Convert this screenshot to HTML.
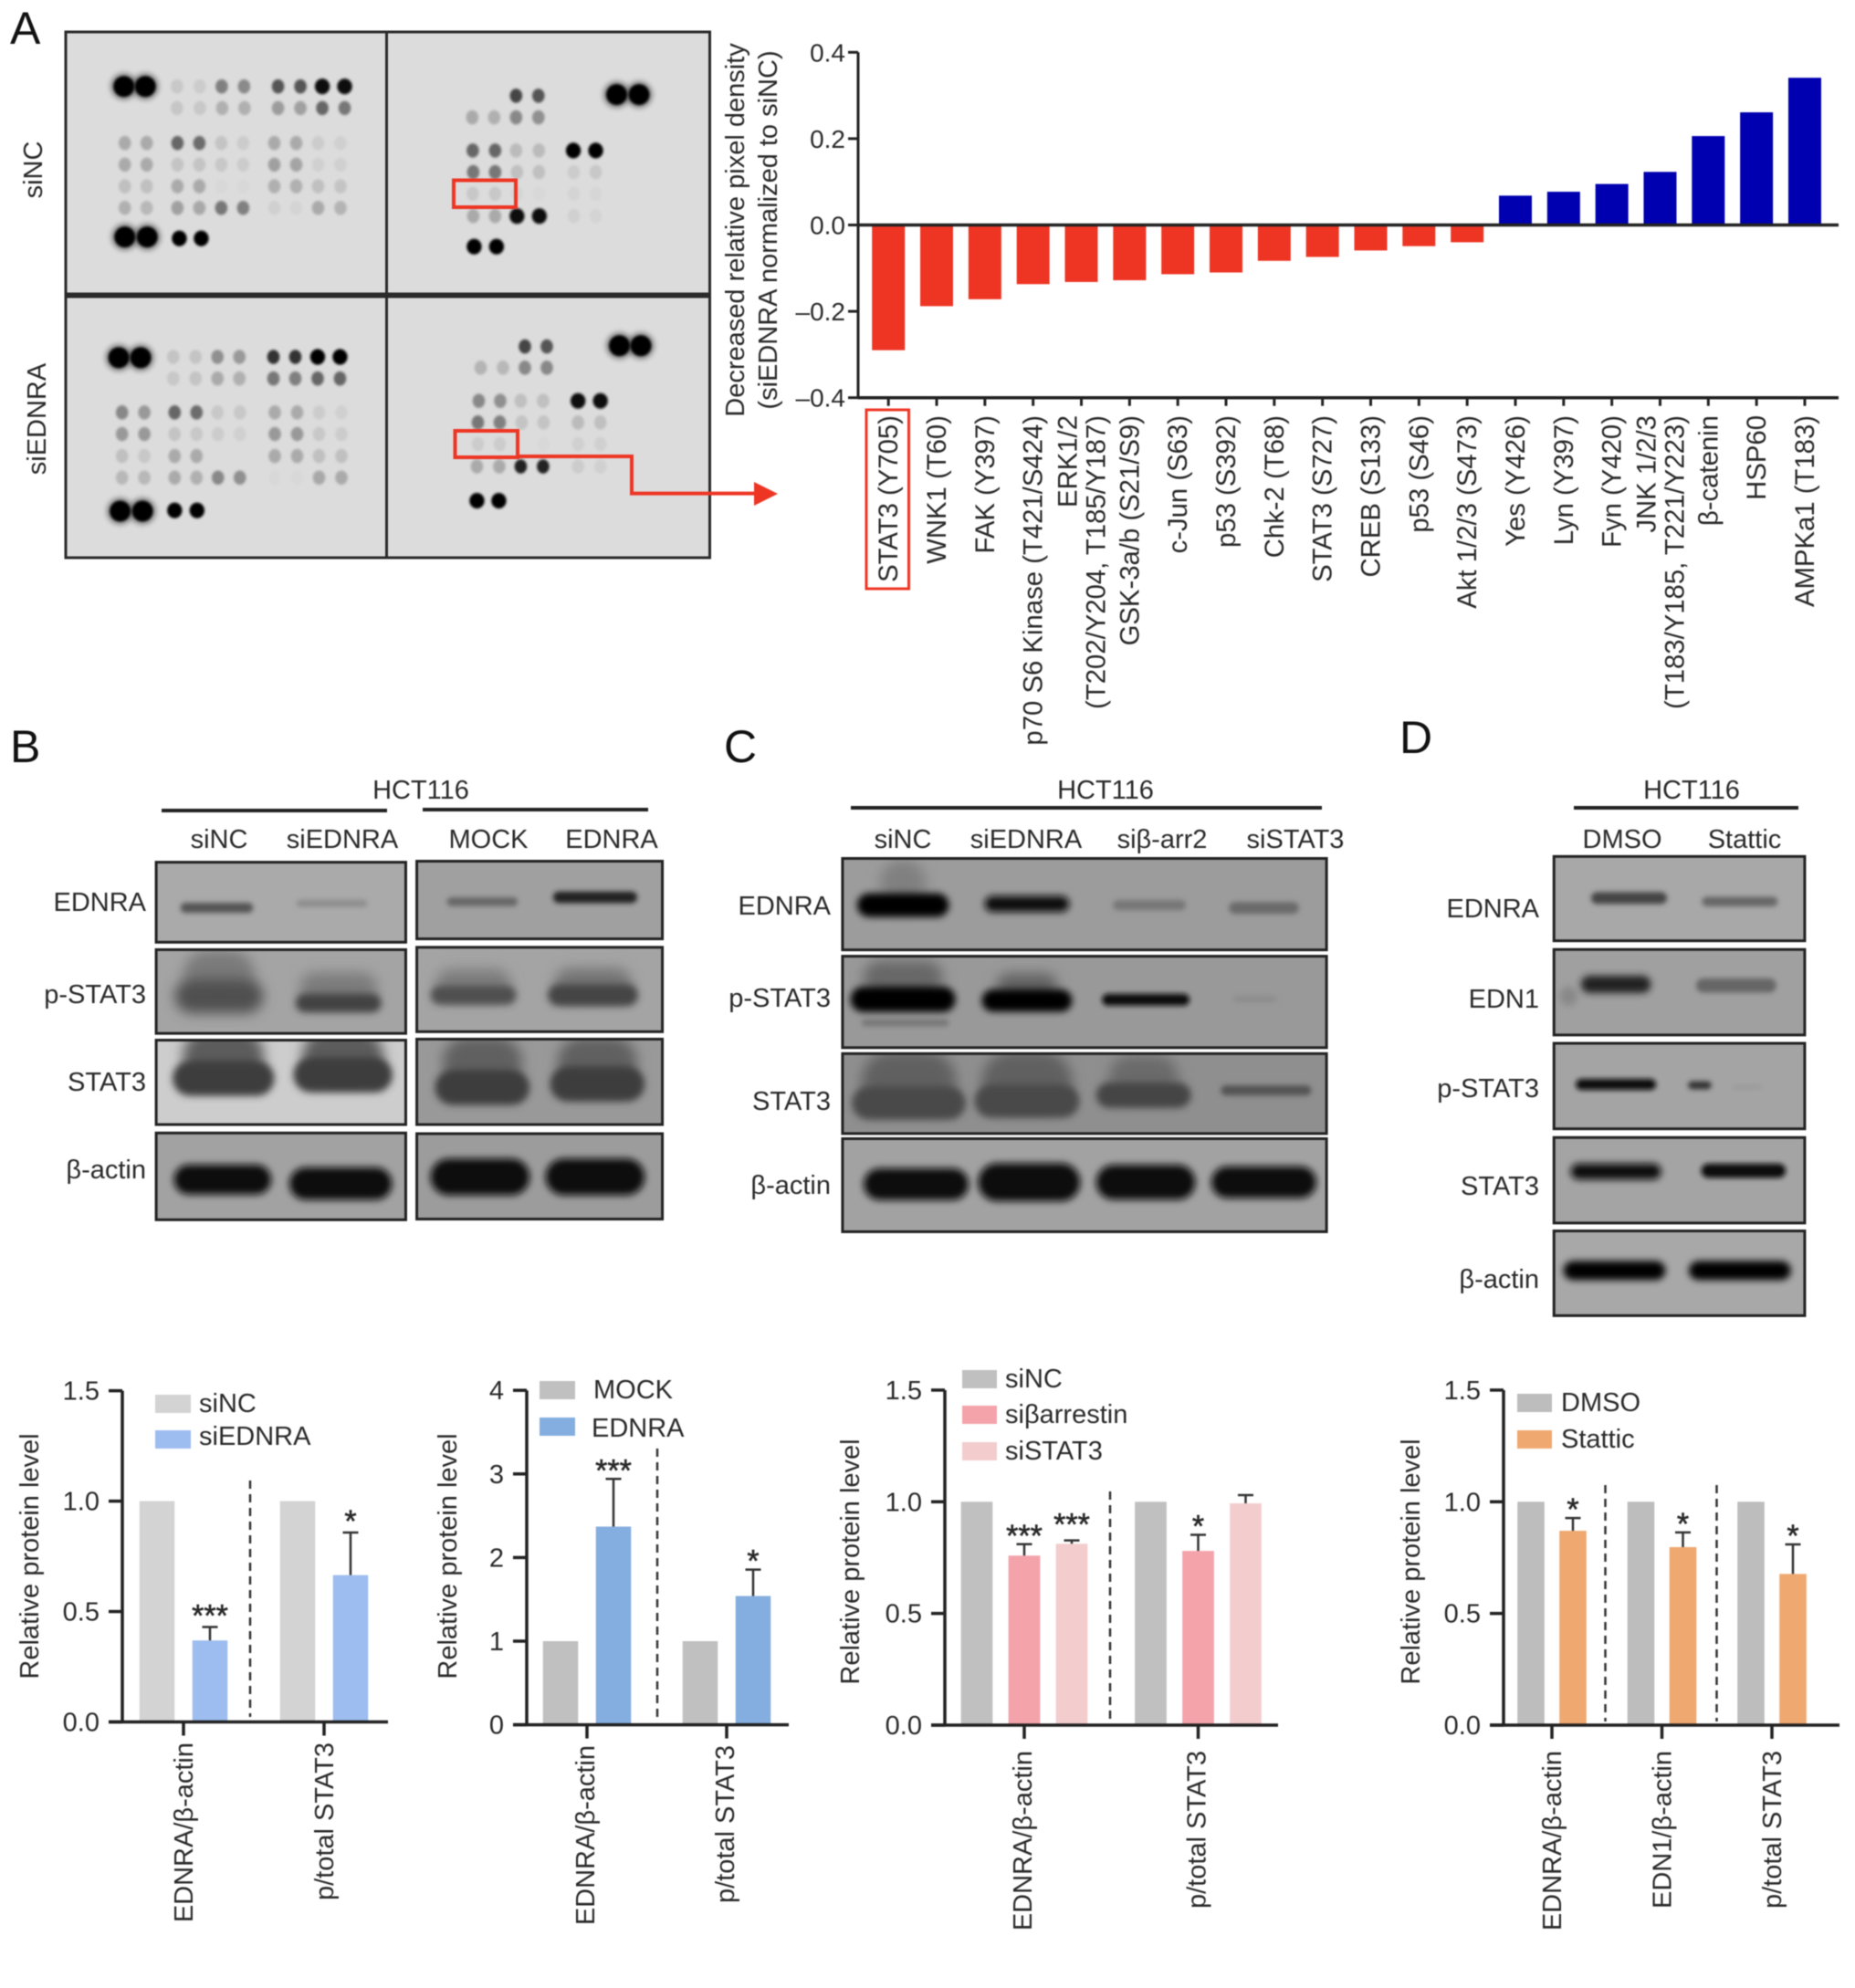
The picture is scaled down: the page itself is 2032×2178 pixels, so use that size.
<!DOCTYPE html>
<html lang="en">
<head>
<meta charset="utf-8">
<title>EDNRA figure</title>
<style>
html,body{margin:0;padding:0;background:#fff;}
svg#fig{display:block;filter:blur(.6px);}
text{font-family:"Liberation Sans",sans-serif;fill:#2a2a2a;font-size:29px;}
.e{text-anchor:end}
.m{text-anchor:middle}
.letter{font-size:50px;fill:#111}
</style>
</head>
<body>
<svg id="fig" xmlns="http://www.w3.org/2000/svg" width="2032" height="2178" viewBox="0 0 2032 2178">
<defs>
<filter id="b1" x="-60%" y="-60%" width="220%" height="220%"><feGaussianBlur stdDeviation="1.4"/></filter>
<filter id="b2" x="-60%" y="-60%" width="220%" height="220%"><feGaussianBlur stdDeviation="2.6"/></filter>
<filter id="b3" x="-60%" y="-60%" width="220%" height="220%"><feGaussianBlur stdDeviation="4"/></filter>
<filter id="b4" x="-60%" y="-60%" width="220%" height="220%"><feGaussianBlur stdDeviation="7"/></filter>
</defs>
<rect width="2032" height="2178" fill="#fff"/>

<g id="array-blot"></g>
<g id="western"></g>
<g id="charts"></g>

<!-- Panel letters -->
<text class="letter" x="11" y="48">A</text>
<text class="letter" x="11" y="835">B</text>
<text class="letter" x="793" y="835">C</text>
<text class="letter" x="1533" y="825">D</text>

<!-- Panel A annotations -->
<text class="m" transform="translate(46 186) rotate(-90)">siNC</text>
<text class="m" transform="translate(50 459) rotate(-90)">siEDNRA</text>
<rect x="497" y="197.5" width="68" height="29.5" fill="none" stroke="#ee3524" stroke-width="4"/>
<rect x="498.5" y="472" width="68.5" height="29" fill="none" stroke="#ee3524" stroke-width="4"/>
<polyline points="567,500 692,500 692,540.6 830,540.6" fill="none" stroke="#ee3524" stroke-width="4"/>
<polygon points="826,528 852,541 826,554" fill="#ee3524"/>
<text class="m" transform="translate(815 252) rotate(-90)">Decreased relative pixel density</text>
<text class="m" transform="translate(851 252) rotate(-90)">(siEDNRA normalized to siNC)</text>
<rect x="949" y="449" width="46.5" height="196" fill="none" stroke="#ee3524" stroke-width="3"/>

<!-- Panel B labels -->
<g>
<text class="m" x="461" y="875">HCT116</text>
<line x1="177" x2="424" y1="888" y2="888" stroke="#222" stroke-width="4"/>
<line x1="463" x2="710" y1="887" y2="887" stroke="#222" stroke-width="4"/>
<text class="m" x="240" y="929">siNC</text>
<text class="m" x="375" y="929">siEDNRA</text>
<text class="m" x="535" y="929">MOCK</text>
<text class="m" x="670" y="929">EDNRA</text>
<text class="e" x="160" y="998">EDNRA</text>
<text class="e" x="160" y="1099">p-STAT3</text>
<text class="e" x="160" y="1195">STAT3</text>
<text class="e" x="160" y="1291">β-actin</text>
</g>

<!-- Panel C labels -->
<g>
<text class="m" x="1211" y="875">HCT116</text>
<line x1="932" x2="1448" y1="885" y2="885" stroke="#222" stroke-width="4"/>
<text class="m" x="989" y="929">siNC</text>
<text class="m" x="1124" y="929">siEDNRA</text>
<text class="m" x="1273" y="929">siβ-arr2</text>
<text class="m" x="1419" y="929">siSTAT3</text>
<text class="e" x="910" y="1002">EDNRA</text>
<text class="e" x="910" y="1103">p-STAT3</text>
<text class="e" x="910" y="1216">STAT3</text>
<text class="e" x="910" y="1308">β-actin</text>
</g>

<!-- Panel D labels -->
<g>
<text class="m" x="1853" y="875">HCT116</text>
<line x1="1724" x2="1970" y1="885" y2="885" stroke="#222" stroke-width="4"/>
<text class="m" x="1777" y="929">DMSO</text>
<text class="m" x="1911" y="929">Stattic</text>
<text class="e" x="1686" y="1005">EDNRA</text>
<text class="e" x="1686" y="1104">EDN1</text>
<text class="e" x="1686" y="1202">p-STAT3</text>
<text class="e" x="1686" y="1309">STAT3</text>
<text class="e" x="1686" y="1411">β-actin</text>
</g>

<!-- Legends -->
<g>
<rect x="170" y="1528" width="39" height="20" fill="#d3d3d3"/>
<rect x="170" y="1567" width="39" height="20" fill="#9dbdf0"/>
<text x="218" y="1547">siNC</text>
<text x="218" y="1583">siEDNRA</text>
</g>
<g>
<rect x="591" y="1513" width="39" height="20" fill="#c0c0c0"/>
<rect x="591" y="1553" width="39" height="20" fill="#85aee0"/>
<text x="650" y="1532">MOCK</text>
<text x="648" y="1574">EDNRA</text>
</g>
<g>
<rect x="1054" y="1501" width="38" height="20" fill="#c0c0c0"/>
<rect x="1054" y="1540" width="38" height="20" fill="#f4a3ab"/>
<rect x="1054" y="1580" width="38" height="20" fill="#f3cdcd"/>
<text x="1101" y="1520">siNC</text>
<text x="1101" y="1559">siβarrestin</text>
<text x="1101" y="1599">siSTAT3</text>
</g>
<g>
<rect x="1662" y="1527" width="38" height="20" fill="#bdbdbd"/>
<rect x="1662" y="1567" width="38" height="20" fill="#efa86f"/>
<text x="1710" y="1546">DMSO</text>
<text x="1710" y="1586">Stattic</text>
</g>

<!-- Y titles of lower charts -->
<text class="m" transform="translate(42 1705) rotate(-90)">Relative protein level</text>
<text class="m" transform="translate(500 1705) rotate(-90)">Relative protein level</text>
<text class="m" transform="translate(941 1711) rotate(-90)">Relative protein level</text>
<text class="m" transform="translate(1555 1711) rotate(-90)">Relative protein level</text>
</svg>

<script>
/* ---------- Chart data ---------- */
const chartACategories = [['STAT3 (Y705)'],['WNK1 (T60)'],['FAK (Y397)'],['p70 S6 Kinase (T421/S424)'],['ERK1/2','(T202/Y204, T185/Y187)'],['GSK-3a/b (S21/S9)'],['c-Jun (S63)'],['p53 (S392)'],['Chk-2 (T68)'],['STAT3 (S727)'],['CREB (S133)'],['p53 (S46)'],['Akt 1/2/3 (S473)'],['Yes (Y426)'],['Lyn (Y397)'],['Fyn (Y420)'],['JNK 1/2/3','(T183/Y185, T221/Y223)'],['β-catenin'],['HSP60'],['AMPKa1 (T183)']];
const chartAValues = [-0.29,-0.188,-0.172,-0.137,-0.132,-0.128,-0.114,-0.11,-0.083,-0.074,-0.059,-0.049,-0.04,0.068,0.077,0.095,0.123,0.206,0.261,0.341];
const chartATickValues = [-0.4,-0.2,0,0.2,0.4];
const chartATickLabels = ['–0.4','–0.2','0.0','0.2','0.4'];

const chartB1Groups = ['EDNRA/β-actin','p/total STAT3'];
const chartB1Control = [1,1];
const chartB1Knockdown = [0.369,0.665];
const chartB1KnockdownErr = [0.061,0.193];
const chartB1Stars = ['***','*'];
const chartB1TickValues = [0,0.5,1,1.5];
const chartB1TickLabels = ['0.0','0.5','1.0','1.5'];

const chartB2Groups = ['EDNRA/β-actin','p/total STAT3'];
const chartB2Mock = [1,1];
const chartB2Ednra = [2.37,1.54];
const chartB2EdnraErr = [0.57,0.315];
const chartB2Stars = ['***','*'];
const chartB2TickValues = [0,1,2,3,4];
const chartB2TickLabels = ['0','1','2','3','4'];

const chartCGroups = ['EDNRA/β-actin','p/total STAT3'];
const chartCControl = [1,1];
const chartCArrestin = [0.759,0.78];
const chartCArrestinErr = [0.051,0.072];
const chartCArrestinStars = ['***','*'];
const chartCStat3 = [0.812,0.993];
const chartCStat3Err = [0.015,0.037];
const chartCStat3Stars = ['***',''];
const chartCTickValues = [0,0.5,1,1.5];
const chartCTickLabels = ['0.0','0.5','1.0','1.5'];

const chartDGroups = ['EDNRA/β-actin','EDN1/β-actin','p/total STAT3'];
const chartDControl = [1,1,1];
const chartDStattic = [0.87,0.797,0.677];
const chartDStatticErr = [0.057,0.066,0.132];
const chartDStars = ['*','*','*'];
const chartDTickValues = [0,0.5,1,1.5];
const chartDTickLabels = ['0.0','0.5','1.0','1.5'];

const NS = 'http://www.w3.org/2000/svg';
function mk(tag, parent, props) {
  const n = document.createElementNS(NS, tag);
  for (const k in props) n.setAttribute(k, props[k]);
  parent.appendChild(n);
  return n;
}
const chartsRoot = document.getElementById('charts');
const INK = '#222';

/* ---------- Panel A bar chart ---------- */
(function () {
  const yA = v => 246.5 - v * 473;
  const xA = i => 973.2 + i * 52.83;
  const g = mk('g', chartsRoot, {});
  
  
  chartAValues.forEach((v, i) => {
    const bar = mk('rect', g, {
      x: xA(i) - 18, width: 36,
      y: Math.min(yA(v), yA(0)), height: Math.abs(yA(v) - yA(0)),
      fill: v < 0 ? '#ee3524' : '#0000b0'
    });
    
    
    const tick = mk('line', g, { x1: xA(i), x2: xA(i), y1: yA(-0.4), y2: yA(-0.4) + 9, stroke: INK, 'stroke-width': 3 });
    
    
    const lines = chartACategories[i];
    lines.forEach((line, k) => {
      const off = lines.length === 1 ? 10 : (k === 0 ? -5 : 26);
      const x = xA(i) + off;
      const t = mk('text', g, { x: x, y: 455, class: 'e', transform: 'rotate(-90 ' + x + ' 455)', style: 'font-size:29.3px' });
      t.textContent = line;
      
      
    });
  });
  chartATickValues.forEach((v, i) => {
    const tick = mk('line', g, { x1: 929, x2: 940, y1: yA(v), y2: yA(v), stroke: INK, 'stroke-width': 3 });
    
    
    const t = mk('text', g, { x: 926, y: yA(v) + 10, class: 'e', style: 'font-size:28px' });
    t.textContent = chartATickLabels[i];
    
    
  });
  const yAxis = mk('line', g, { x1: 940, x2: 940, y1: yA(0.4), y2: yA(-0.4), stroke: INK, 'stroke-width': 3 });
  
  
  const xAxis = mk('line', g, { x1: 940, x2: 2014, y1: yA(-0.4), y2: yA(-0.4), stroke: INK, 'stroke-width': 3.5 });
  
  
  const zero = mk('line', g, { x1: 940, x2: 2014, y1: yA(0), y2: yA(0), stroke: INK, 'stroke-width': 3.5 });
  
  
})();

/* ---------- Lower grouped bar charts ---------- */
function drawGrouped(c) {
  const y = v => c.zero - v * c.unit;
  const x = i => c.firstTick + i * c.spacing;
  const g = mk('g', chartsRoot, {});
  
  
  const n = c.series.length;
  c.groups.forEach((label, i) => {
    c.series.forEach((s, j) => {
      const cx = x(i) + (j - (n - 1) / 2) * c.barStep;
      const bar = mk('rect', g, { x: cx - c.barW / 2, width: c.barW, y: y(s.vals[i]), height: y(0) - y(s.vals[i]), fill: s.color });
      
      
      let top = y(s.vals[i]);
      if (s.errs) {
        top = y(s.vals[i] + s.errs[i]);
        const stem = mk('line', g, { x1: cx, x2: cx, y1: y(s.vals[i]), y2: top, stroke: '#333', 'stroke-width': 2.5 });
        
        
        const cap = mk('line', g, { x1: cx - 8.5, x2: cx + 8.5, y1: top, y2: top, stroke: '#333', 'stroke-width': 2.5 });
        
        
      }
      if (s.stars && s.stars[i]) {
        const gap = s.starGap === undefined ? 0 : s.starGap;
        const st = mk('text', g, { x: cx, y: top + 2 - gap, class: 'm', style: 'font-size:34px;stroke:#2a2a2a;stroke-width:.6' });
        st.textContent = s.stars[i];
        
        
      }
    });
    const tick = mk('line', g, { x1: x(i), x2: x(i), y1: y(0), y2: y(0) + 15, stroke: INK, 'stroke-width': 3.5 });
    
    
    const lx = x(i) + c.labelOff, ly = c.labelTop;
    const t = mk('text', g, { x: lx, y: ly, class: 'e', transform: 'rotate(-90 ' + lx + ' ' + ly + ')' });
    t.textContent = label;
    
    
  });
  c.dividers.forEach(d => {
    const line = mk('line', g, { x1: d, x2: d, y1: c.divTop, y2: c.divBottom, stroke: '#333', 'stroke-width': 2.5, 'stroke-dasharray': '9 6' });
    
    
  });
  c.tickVals.forEach((v, i) => {
    const tick = mk('line', g, { x1: c.axisX - 15, x2: c.axisX, y1: y(v), y2: y(v), stroke: INK, 'stroke-width': 3.5 });
    
    
    const t = mk('text', g, { x: c.axisX - 25, y: y(v) + 10, class: 'e' });
    t.textContent = c.tickLabels[i];
    
    
  });
  const topV = c.tickVals[c.tickVals.length - 1];
  const yAxis = mk('line', g, { x1: c.axisX, x2: c.axisX, y1: y(topV), y2: y(0), stroke: INK, 'stroke-width': 3.5 });
  
  
  const xAxis = mk('line', g, { x1: c.axisX - 15, x2: c.axisEnd, y1: y(0), y2: y(0), stroke: INK, 'stroke-width': 3.5 });
  
  
}

drawGrouped({ axisX: 134, axisEnd: 425, zero: 1886.5, unit: 241.9, firstTick: 201, spacing: 154, barStep: 58, barW: 38.5, labelTop: 1909, labelOff: 10,
  dividers: [274], divTop: 1622, divBottom: 1881, groups: chartB1Groups, tickVals: chartB1TickValues, tickLabels: chartB1TickLabels,
  series: [{ vals: chartB1Control, color: '#d3d3d3' }, { vals: chartB1Knockdown, errs: chartB1KnockdownErr, stars: chartB1Stars, starGap: 3, color: '#9dbdf0' }] });
drawGrouped({ axisX: 577, axisEnd: 864, zero: 1889.6, unit: 91.6, firstTick: 643, spacing: 153, barStep: 58, barW: 38.5, labelTop: 1912, labelOff: 8,
  dividers: [720], divTop: 1587, divBottom: 1883, groups: chartB2Groups, tickVals: chartB2TickValues, tickLabels: chartB2TickLabels,
  series: [{ vals: chartB2Mock, color: '#c0c0c0' }, { vals: chartB2Ednra, errs: chartB2EdnraErr, stars: chartB2Stars, color: '#85aee0' }] });
drawGrouped({ axisX: 1035, axisEnd: 1400, zero: 1890, unit: 244.7, firstTick: 1122, spacing: 190.5, barStep: 52, barW: 34.7, labelTop: 1918, labelOff: 8,
  dividers: [1216], divTop: 1634, divBottom: 1889, groups: chartCGroups, tickVals: chartCTickValues, tickLabels: chartCTickLabels,
  series: [{ vals: chartCControl, color: '#c0c0c0' }, { vals: chartCArrestin, errs: chartCArrestinErr, stars: chartCArrestinStars, color: '#f4a3ab' }, { vals: chartCStat3, errs: chartCStat3Err, stars: chartCStat3Stars, starGap: 8, color: '#f3cdcd' }] });
drawGrouped({ axisX: 1647, axisEnd: 2015, zero: 1890, unit: 244.7, firstTick: 1700, spacing: 120.5, barStep: 46, barW: 29.6, labelTop: 1918, labelOff: 10,
  dividers: [1758.5, 1880.5], divTop: 1627, divBottom: 1886, groups: chartDGroups, tickVals: chartDTickValues, tickLabels: chartDTickLabels,
  series: [{ vals: chartDControl, color: '#bdbdbd' }, { vals: chartDStattic, errs: chartDStatticErr, stars: chartDStars, color: '#efa86f' }] });

/* ---------- Dot-blot photograph stand-in (not chart data) ---------- */
(function () {
  const root = document.getElementById('array-blot');
  const SX = 800 / 1568, SY = 640 / 1568;
  const boxes = [[72, 35, 351.5, 287], [423.5, 35, 354, 287], [72, 325, 351.5, 286], [423.5, 325, 354, 286]];
  boxes.forEach(b => {
    const r = mk('rect', root, { x: b[0], y: b[1], width: b[2], height: b[3], fill: '#dcdcdc' });
    
    
  });
  const rows = [
    [232,[380,200,429,204,476,128,524,138,597,85,645,85,692,10,740,10]],
    [290,[380,198,429,200,477,176,525,176,597,156,645,160,692,102,740,119]],
    [384,[268,170,315,170,381,102,428,108,475,196,522,204,589,170,636,170,683,204,731,208]],
    [442,[268,170,315,170,381,196,428,196,475,200,522,204,589,160,636,164,683,208,731,208]],
    [500,[268,192,315,192,381,170,428,170,475,216,522,216,589,176,636,176,683,192,731,196]],
    [558,[268,176,315,184,381,160,428,168,475,119,522,128,589,208,636,212,683,170,731,180]],
    [640,[385,0,432,0]],
    [257,[1108,68,1156,85]],
    [315,[1014,170,1061,176,1108,136,1156,144]],
    [404,[1015,102,1063,102,1108,187,1157,187,1231,0,1279,0]],
    [462,[1016,119,1063,119,1110,192,1157,192,1232,204,1279,200]],
    [520,[1015,200,1063,200,1110,212,1157,216,1232,212,1279,214]],
    [580,[1016,170,1063,170,1110,17,1158,17,1232,208,1279,212]],
    [662,[1018,0,1066,0]],
    [958,[372,196,420,196,467,144,514,153,587,51,634,51,682,0,730,0]],
    [1016,[372,200,420,196,467,170,514,176,587,119,634,128,682,102,730,102]],
    [1107,[262,136,310,153,375,102,422,108,467,200,515,200,590,170,638,170,685,204,733,208]],
    [1165,[262,153,310,153,375,196,422,200,468,204,515,208,590,153,638,153,685,200,733,204]],
    [1224,[262,192,310,200,375,170,422,170,468,220,515,220,590,170,638,170,685,192,733,192]],
    [1282,[262,184,310,184,375,170,422,176,468,136,515,144,590,216,638,216,685,168,733,170]],
    [1370,[375,0,423,0]],
    [930,[1127,68,1174,85]],
    [987,[1032,180,1080,184,1127,136,1174,136]],
    [1076,[1028,136,1074,144,1118,192,1166,192,1241,17,1289,17]],
    [1134,[1026,119,1073,128,1120,196,1167,196,1241,187,1289,192]],
    [1192,[1026,204,1073,204,1120,220,1167,216,1241,208,1289,208]],
    [1252,[1024,170,1072,170,1118,34,1166,34,1241,204,1289,208]],
    [1344,[1024,0,1071,0]]
  ];
  rows.forEach(row => {
    for (let i = 0; i < row[1].length; i += 2) {
      const gv = row[1][i + 1];
      const spot = mk('ellipse', root, { cx: row[1][i] * SX, cy: row[0] * SY, rx: gv < 30 ? 8.2 : 6.8, ry: gv < 30 ? 8.6 : 7.8, fill: 'rgb(' + gv + ',' + gv + ',' + gv + ')', filter: 'url(#b1)' });
      
      
    }
  });
  const refs = [[266,232],[312,232],[268,636],[316,636],[1324,254],[1372,254],[255,960],[302,960],[258,1372],[306,1372],[1330,928],[1376,928]];
  refs.forEach(p => {
    const halo = mk('circle', root, { cx: p[0] * SX, cy: p[1] * SY, r: 15, fill: '#444', opacity: .55, filter: 'url(#b2)' });
    
    
  });
  refs.forEach(p => {
    const spot = mk('circle', root, { cx: p[0] * SX, cy: p[1] * SY, r: 11.5, fill: '#000', filter: 'url(#b1)' });
    
    
  });
  boxes.forEach(b => {
    const r = mk('rect', root, { x: b[0], y: b[1], width: b[2], height: b[3], fill: 'none', stroke: '#2a2a2a', 'stroke-width': 3 });
    
    
  });
})();

/* ---------- Western blot photograph stand-ins (not chart data) ---------- */
(function () {
  const root = document.getElementById('western');
  const figures = [
    { sx: 760/1568, sy: 580/1568, ox: 0, oy: 790, panels: [
      { box:[353,418,917,655], bg:'#aaaaaa', bands:[[490,553,82,15,'#555'],[750,540,80,10,'#8c8c8c']] },
      { box:[353,677,917,925], bg:'#a4a4a4', bands:[[495,750,80,70,'#7a7a7a'],[495,815,100,50,'#505050'],[765,790,88,45,'#7c7c7c'],[765,835,97,28,'#424242']] },
      { box:[353,945,917,1195], bg:'#cdcdcd', bands:[[505,990,92,75,'#5c5c5c'],[505,1058,115,52,'#3c3c3c'],[775,990,92,75,'#5c5c5c'],[775,1048,112,52,'#3c3c3c']] },
      { box:[353,1220,917,1477], bg:'#a2a2a2', bands:[[503,1358,110,44,'#0f0f0f'],[770,1370,116,48,'#0f0f0f']] },
      { box:[942,415,1497,645], bg:'#a0a0a0', bands:[[1090,535,80,13,'#666'],[1345,522,95,17,'#222']] },
      { box:[942,670,1497,920], bg:'#a4a4a4', bands:[[1070,780,85,45,'#7c7c7c'],[1070,812,97,28,'#505050'],[1340,780,88,48,'#747474'],[1340,812,102,32,'#444']] },
      { box:[942,942,1497,1195], bg:'#999999', bands:[[1090,1010,90,75,'#606060'],[1090,1085,107,52,'#3e3e3e'],[1350,1010,90,75,'#606060'],[1350,1075,107,52,'#3e3e3e']] },
      { box:[942,1222,1497,1475], bg:'#9c9c9c', bands:[[1085,1350,112,54,'#070707'],[1345,1350,112,54,'#070707']] }
    ]},
    { sx: 1252/1568, sy: 680/1568, ox: 780, oy: 790, panels: [
      { box:[179,347,843,578], bg:'#9c9c9c', bands:[[262,410,32,60,'#808080'],[262,465,63,30,'#000'],[432,462,58,20,'#111'],[600,465,50,13,'#777'],[757,472,48,15,'#6a6a6a']] },
      { box:[179,594,843,825], bg:'#999999', bands:[[262,650,55,45,'#686868'],[262,703,72,32,'#000'],[265,762,60,9,'#777'],[432,670,42,32,'#606060'],[432,706,62,28,'#000'],[595,704,60,15,'#111'],[745,702,30,8,'#8c8c8c']] },
      { box:[179,840,843,1042], bg:'#8f8f8f', bands:[[270,910,65,75,'#606060'],[270,965,78,42,'#484848'],[432,910,62,75,'#606060'],[432,960,72,42,'#484848'],[592,900,48,55,'#6a6a6a'],[592,945,65,32,'#444'],[760,933,62,13,'#555']] },
      { box:[179,1055,843,1290], bg:'#a2a2a2', bands:[[280,1170,72,40,'#111'],[435,1165,70,48,'#080808'],[595,1165,68,44,'#0a0a0a'],[757,1165,72,40,'#0a0a0a']] }
    ]},
    { sx: 1252/1568, sy: 680/1568, ox: 780, oy: 790, panels: [
      { box:[1155,342,1499,555], bg:'#a8a8a8', bands:[[1258,447,52,15,'#444'],[1410,456,52,12,'#666']] },
      { box:[1155,577,1499,793], bg:'#a0a0a0', bands:[[1240,665,48,22,'#222'],[1405,668,55,18,'#666'],[1175,695,12,25,'#888']] },
      { box:[1155,814,1499,1030], bg:'#a4a4a4', bands:[[1240,918,55,14,'#111'],[1355,920,16,10,'#333'],[1420,925,20,5,'#999']] },
      { box:[1155,1052,1499,1268], bg:'#a4a4a4', bands:[[1240,1138,62,20,'#111'],[1415,1136,58,18,'#111']] },
      { box:[1155,1288,1499,1502], bg:'#a8a8a8', bands:[[1238,1388,70,24,'#000'],[1410,1388,70,24,'#000']] }
    ]}
  ];
  figures.forEach(f => {
    f.panels.forEach(p => {
      const x0 = f.ox + p.box[0] * f.sx, y0 = f.oy + p.box[1] * f.sy;
      const w = (p.box[2] - p.box[0]) * f.sx, h = (p.box[3] - p.box[1]) * f.sy;
      const s = mk('svg', root, { x: x0, y: y0, width: w, height: h });
      
      
      mk('rect', s, { width: w, height: h, fill: p.bg });
      p.bands.forEach(b => {
        const ry = b[3] * f.sy, rx = b[2] * f.sx;
        const light = parseInt(b[4].replace('#', '').charAt(0), 16) >= 5;
        const filter = light && ry > 12 ? 'b4' : (ry < 8 ? 'b2' : 'b3');
        const band = mk('rect', s, { x: f.ox + b[0] * f.sx - x0 - rx, y: f.oy + b[1] * f.sy - y0 - ry, width: 2 * rx, height: 2 * ry, rx: Math.min(rx, ry), ry: ry, fill: b[4], filter: 'url(#' + filter + ')' });
        
        
      });
      const border = mk('rect', root, { x: x0, y: y0, width: w, height: h, fill: 'none', stroke: '#222', 'stroke-width': 3 });
      
      
    });
  });
})();
</script>
</body>
</html>
